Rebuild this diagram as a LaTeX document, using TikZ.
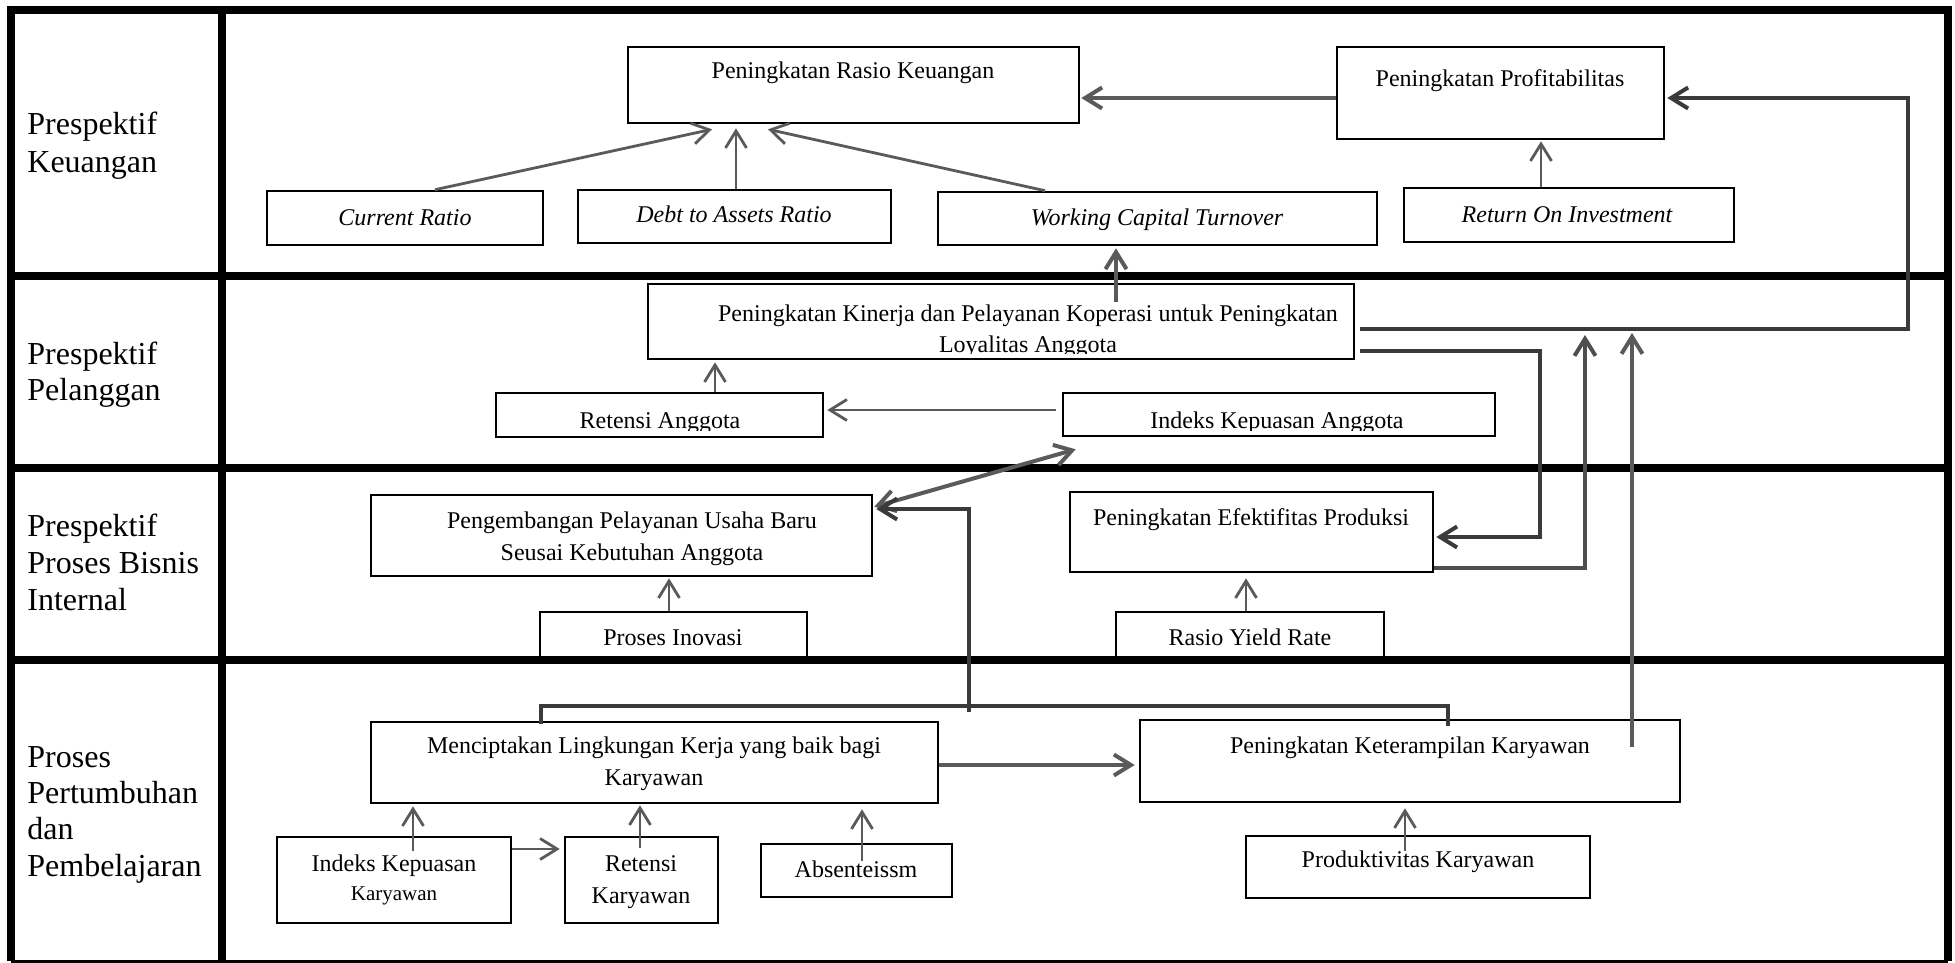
\documentclass[tikz,border=0pt]{standalone}
\usepackage{fontspec}
\setmainfont{Liberation Serif}
\usetikzlibrary{arrows.meta,fit,calc}
\definecolor{arrgrey}{HTML}{5A5A5A}
\definecolor{conngrey}{HTML}{3A3A3A}
\begin{document}
\begin{tikzpicture}[x=0.5pt,y=-0.5pt,
  frameline/.style={line width=3.7pt,black},
  bx/.style={draw=black,line width=1.3pt,inner sep=0pt},
  tx/.style={font=\fontsize{12}{14}\selectfont,anchor=base,inner sep=0pt},
  itx/.style={font=\fontsize{12}{14}\selectfont\itshape,anchor=base,inner sep=0pt},
  stx/.style={font=\fontsize{10.5}{12}\selectfont,anchor=base,inner sep=0pt},
  lab/.style={font=\fontsize{16}{19}\selectfont,anchor=base west,inner sep=0pt},
  tip/.style={-{Straight Barb[length=8.5pt,width=10.5pt]}},
  arr/.style={draw=arrgrey,line width=1.4pt,tip},
  tarr/.style={draw=arrgrey,line width=2pt,tip},
  conn/.style={draw=conngrey,line width=2pt}]
\useasboundingbox (0,0) rectangle (1955,963);
\fill[white] (0,0) rectangle (1955,963);
% frame
\draw[frameline,line join=miter] (11,961) -- (11,10) -- (1948,10) -- (1948,961);
\draw[frameline] (222,10) -- (222,961);
\draw[frameline] (11,276) -- (1948,276);
\draw[frameline] (11,468) -- (1948,468);
\draw[frameline] (11,660) -- (1948,660);
\draw[line width=1.5pt] (11,961) -- (1948,961);
% row labels
\node[lab] (l1a) at (27,134) {Prespektif};
\node[lab] (l1b) at (27,172) {Keuangan};
\node[lab] (l2a) at (27,364) {Prespektif};
\node[lab] (l2b) at (27,400) {Pelanggan};
\node[lab] (l3a) at (27,536) {Prespektif};
\node[lab] (l3b) at (27,573) {Proses Bisnis};
\node[lab] (l3c) at (27,610) {Internal};
\node[lab] (l4a) at (27,767) {Proses};
\node[lab] (l4b) at (27,803) {Pertumbuhan};
\node[lab] (l4c) at (27,839) {dan};
\node[lab] (l4d) at (27,876) {Pembelajaran};
% boxes: financial
\node[bx,fit={(628,47)(1079,123)}] (rk) {};
\node[tx] (rkT) at (853,79) {Peningkatan Rasio Keuangan};
\node[bx,fit={(1337,47)(1664,139)}] (pf) {};
\node[tx] (pfT) at (1500,87) {Peningkatan Profitabilitas};
\node[bx,fit={(267,191)(543,245)}] (cr) {};
\node[itx] (crT) at (405,225) {Current Ratio};
\node[bx,fit={(578,190)(891,243)}] (dar) {};
\node[itx] (darT) at (734,222) {Debt to Assets Ratio};
\node[bx,fit={(938,192)(1377,245)}] (wct) {};
\node[itx] (wctT) at (1157,225) {Working Capital Turnover};
\node[bx,fit={(1404,188)(1734,242)}] (roi) {};
\node[itx] (roiT) at (1567,222) {Return On Investment};
% customer
\node[bx,fit={(648,284)(1354,359)}] (kin) {};
\node[tx] (kinT1) at (1028,321) {Peningkatan Kinerja dan Pelayanan Koperasi untuk Peningkatan};
\begin{scope}
\clip (648,330) rectangle (1354,353);
\node[tx] (kinT2) at (1028,352) {Loyalitas Anggota};
\end{scope}
\node[bx,fit={(496,393)(823,437)}] (reta) {};
\begin{scope}
\clip (496,395) rectangle (823,430);
\node[tx] (retaT) at (660,428) {Retensi Anggota};
\end{scope}
\node[bx,fit={(1063,393)(1495,436)}] (iko) {};
\begin{scope}
\clip (1063,395) rectangle (1495,430);
\node[tx] (ikoT) at (1277,428) {Indeks Kepuasan Anggota};
\end{scope}
% internal
\node[bx,fit={(371,495)(872,576)}] (peng) {};
\node[tx] (pengT1) at (632,528) {Pengembangan Pelayanan Usaha Baru};
\node[tx] (pengT2) at (632,560) {Seusai Kebutuhan Anggota};
\node[bx,fit={(1070,492)(1433,572)}] (efek) {};
\node[tx] (efekT) at (1251,525) {Peningkatan Efektifitas Produksi};
\node[bx,fit={(540,612)(807,660)}] (ino) {};
\node[tx] (inoT) at (673,645) {Proses Inovasi};
\node[bx,fit={(1116,612)(1384,660)}] (yld) {};
\node[tx] (yldT) at (1250,645) {Rasio Yield Rate};
% learning
\node[bx,fit={(371,722)(938,803)}] (menc) {};
\node[tx] (mencT1) at (654,753) {Menciptakan Lingkungan Kerja yang baik bagi};
\node[tx] (mencT2) at (654,785) {Karyawan};
\node[bx,fit={(1140,720)(1680,802)}] (ket) {};
\node[tx] (ketT) at (1410,753) {Peningkatan Keterampilan Karyawan};
\node[bx,fit={(1246,836)(1590,898)}] (prod) {};
\node[tx] (prodT) at (1418,867) {Produktivitas Karyawan};
\node[bx,fit={(277,837)(511,923)}] (ikk) {};
\node[tx] (ikkT1) at (394,871) {Indeks Kepuasan};
\node[stx] (ikkT2) at (394,900) {Karyawan};
\node[bx,fit={(565,837)(718,923)}] (rkar) {};
\node[tx] (rkarT1) at (641,871) {Retensi};
\node[tx] (rkarT2) at (641,903) {Karyawan};
\node[bx,fit={(761,844)(952,897)}] (abs) {};
\node[tx] (absT) at (856,877) {Absenteissm};
% connectors
\draw[arr] (435,0 |- cr.north) -- ($(712,0 |- rk.south)+(0,5)$);
\draw[arr] (736,0 |- dar.north) -- ($(736,0 |- rk.south)+(0,4)$);
\draw[arr] (1045,0 |- wct.north) -- ($(768,0 |- rk.south)+(0,5)$);
\draw[tarr] ($(1116,0 |- kin.north)+(0,19)$) -- ($(1116,0 |- wct.south)+(0,2)$);
\draw[tarr] (pf.west |- 0,98) -- ($(rk.east |- 0,98)+(1,0)$);
\draw[arr] (1541,0 |- roi.north) -- ($(1541,0 |- pf.south)+(0,1)$);
\draw[arr] (715,0 |- reta.north) -- ($(715,0 |- kin.south)+(0,2)$);
\draw[arr] ($(iko.west |- 0,410)+(-6,0)$) -- ($(reta.east |- 0,410)+(3,0)$);
\draw[tarr,{Straight Barb[length=8.5pt,width=10.5pt]}-{Straight Barb[length=8.5pt,width=10.5pt]}] ($(peng.north east)+(1,13)$) -- ($(iko.south west)+(14,12)$);
\draw[conn,tip] ($(kin.east |- 0,329)+(5,0)$) -- (1908,329) -- (1908,98) -- ($(pf.east |- 0,98)+(2,0)$);
\draw[conn,tip] ($(kin.east |- 0,351)+(5,0)$) -- (1540,351) -- (1540,537) -- ($(efek.east |- 0,537)+(2,0)$);
\draw[tarr,draw=conngrey!90!white] (efek.east |- 0,568) -- (1585,568) -- (1585,335);
\draw[tarr] ($(1632,0 |- ket.north)+(0,28)$) -- (1632,333);
\draw[conn] ($(541,0 |- menc.north)+(0,3)$) -- (541,706) -- (1448,706) -- ($(1448,0 |- ket.north)+(0,7)$);
\coordinate (j1) at (969,712);
\draw[conn,tip] (j1) -- (969,509) -- ($(peng.east |- 0,509)+(3,0)$);
\draw[tarr] (menc.east |- 0,765) -- ($(ket.west |- 0,765)+(-4,0)$);
\draw[arr] (669,0 |- ino.north) -- ($(669,0 |- peng.south)+(0,1)$);
\draw[arr] (1246,0 |- yld.north) -- ($(1246,0 |- efek.south)+(0,5)$);
\draw[arr] ($(413,0 |- ikk.north)+(0,15)$) -- ($(413,0 |- menc.south)+(0,2)$);
\draw[arr] (ikk.east |- 0,849) -- ($(rkar.west |- 0,849)+(-4,0)$);
\draw[arr] ($(640,0 |- rkar.north)+(0,12)$) -- ($(640,0 |- menc.south)+(0,1)$);
\draw[arr] ($(862,0 |- abs.north)+(0,18)$) -- ($(862,0 |- menc.south)+(0,5)$);
\draw[arr] ($(1405,0 |- prod.north)+(0,16)$) -- ($(1405,0 |- ket.south)+(0,5)$);
\end{tikzpicture}
\end{document}
